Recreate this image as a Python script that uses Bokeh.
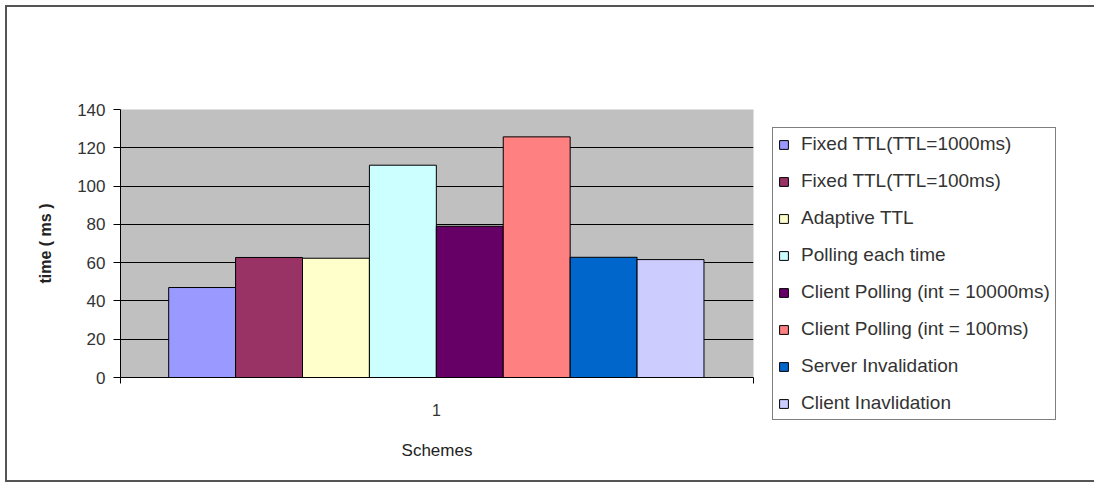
from bokeh.plotting import figure
from bokeh.models import Legend, LegendItem, FixedTicker, Range1d
from bokeh.embed import file_html
from bokeh.resources import INLINE

# ---- data ----
schemes = ["Fixed TTL(TTL=1000ms)", "Fixed TTL(TTL=100ms)", "Adaptive TTL",
           "Polling each time", "Client Polling (int = 10000ms)",
           "Client Polling (int = 100ms)", "Server Invalidation",
           "Client Inavlidation"]
times = [47.0, 62.7, 62.3, 110.9, 79.0, 125.7, 62.8, 61.6]
colors = ["#9999FF", "#993366", "#FFFFCC", "#CCFFFF", "#660066",
          "#FF8080", "#0066CC", "#CCCCFF"]
category_label = "1"
y_ticks = [0, 20, 40, 60, 80, 100, 120, 140]

n = len(schemes)
xs = list(range(n))
xmin, xmax = -1.22, n - 1 + 1.24
xmid = (n - 1) / 2

FONT = "Liberation Sans"

p = figure(frame_width=633, frame_height=268, output_backend="svg",
           toolbar_location=None,
           x_range=Range1d(xmin, xmax), y_range=Range1d(0, 140),
           min_border_left=120, min_border_right=0,
           min_border_top=109, min_border_bottom=110)
p.border_fill_alpha = 0
p.background_fill_color = "#C0C0C0"
p.outline_line_color = None
p.styles = {"background": "white",
            "box-shadow": "inset 0 0 0 5px white, inset 0 0 0 7px #555555"}

renderers = []
for i in range(n):
    r = p.vbar(x=[xs[i]], top=[times[i]], width=1.0, bottom=0,
               fill_color=colors[i], line_color="black", line_width=1)
    renderers.append(r)

# grid
p.xgrid.grid_line_color = None
p.ygrid.grid_line_color = "black"
p.ygrid.grid_line_width = 1
p.ygrid.ticker = FixedTicker(ticks=y_ticks)

# y axis
p.yaxis.ticker = FixedTicker(ticks=y_ticks)
p.yaxis.axis_line_color = "black"
p.yaxis.major_tick_line_color = "black"
p.yaxis.major_tick_out = 7
p.yaxis.major_tick_in = 0
p.yaxis.minor_tick_line_color = None
p.yaxis.major_label_text_font = FONT
p.yaxis.major_label_text_font_size = "17px"
p.yaxis.major_label_text_color = "#333333"
p.yaxis.major_label_standoff = 8
p.yaxis.axis_label = "time ( ms )"
p.yaxis.axis_label_text_font = FONT
p.yaxis.axis_label_text_font_style = "bold"
p.yaxis.axis_label_text_font_size = "16px"
p.yaxis.axis_label_text_color = "#222222"
p.yaxis.axis_label_standoff = 20

# x axis
p.xaxis.ticker = FixedTicker(ticks=[xmid], minor_ticks=[xmin, xmax])
p.xaxis.major_label_overrides = {xmid: category_label}
p.xaxis.axis_line_color = "black"
p.xaxis.major_tick_line_color = None
p.xaxis.minor_tick_line_color = "black"
p.xaxis.minor_tick_out = 6
p.xaxis.minor_tick_in = 0
p.xaxis.major_label_text_font = FONT
p.xaxis.major_label_text_font_size = "16px"
p.xaxis.major_label_text_color = "#333333"
p.xaxis.major_label_standoff = 20
p.xaxis.axis_label = "Schemes"
p.xaxis.axis_label_text_font = FONT
p.xaxis.axis_label_text_font_style = "normal"
p.xaxis.axis_label_text_font_size = "17px"
p.xaxis.axis_label_text_color = "#222222"
p.xaxis.axis_label_standoff = 22

# legend
items = [LegendItem(label=schemes[i], renderers=[renderers[i]]) for i in range(n)]
legend = Legend(items=items, location=(19, -43))
legend.border_line_color = "black"
legend.border_line_width = 1
legend.background_fill_color = "white"
legend.background_fill_alpha = 1
legend.padding = 5
legend.margin = 0
legend.spacing = 15
legend.glyph_width = 11
legend.glyph_height = 11
legend.label_height = 20
legend.label_standoff = 12
legend.label_text_font = FONT
legend.label_text_font_size = "19px"
legend.label_text_color = "#333333"
p.add_layout(legend, "right")

open("out.html", "w").write(file_html(p, INLINE))
